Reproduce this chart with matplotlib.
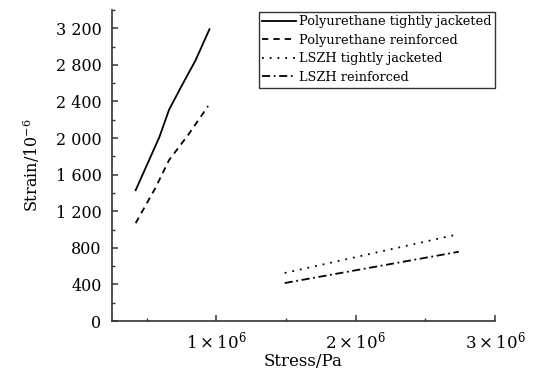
import matplotlib
matplotlib.use("Agg")
import matplotlib.pyplot as plt
from matplotlib.ticker import MultipleLocator, FuncFormatter

plt.rcParams['font.family'] = ['DejaVu Serif']
plt.rcParams['mathtext.fontset'] = 'dejavuserif'

# Data (stress in Pa, strain in 1e-6)
pu_tight_x = [0.42e6, 0.59e6, 0.66e6, 0.75e6, 0.85e6, 0.95e6]
pu_tight_y = [1430, 2010, 2310, 2570, 2850, 3190]
pu_reinf_x = [0.42e6, 0.56e6, 0.66e6, 0.80e6, 0.94e6]
pu_reinf_y = [1070, 1450, 1760, 2040, 2350]
lszh_tight_x = [1.49e6, 2.74e6]
lszh_tight_y = [525, 950]
lszh_reinf_x = [1.49e6, 2.74e6]
lszh_reinf_y = [415, 757]

labels = ["Polyurethane tightly jacketed", "Polyurethane reinforced",
          "LSZH tightly jacketed", "LSZH reinforced"]

fig = plt.figure(figsize=(5.34, 3.74), dpi=100)
ax = fig.add_axes([0.2097, 0.1417, 0.7173, 0.8316])

lw = 1.3
ax.plot(pu_tight_x, pu_tight_y, color='black', lw=lw, ls='-', label=labels[0])
ax.plot(pu_reinf_x, pu_reinf_y, color='black', lw=lw, ls=(0, (3.5, 2.8)), label=labels[1])
ax.plot(lszh_tight_x, lszh_tight_y, color='black', lw=lw, ls=(0, (1, 3.3)), label=labels[2])
ax.plot(lszh_reinf_x, lszh_reinf_y, color='black', lw=lw, ls=(0, (4.5, 2, 1, 2)), label=labels[3])

ax.set_xlim(0.25e6, 3.0e6)
ax.set_ylim(0, 3400)

ax.xaxis.set_major_locator(MultipleLocator(1e6))
ax.xaxis.set_minor_locator(MultipleLocator(0.5e6))
ax.yaxis.set_major_locator(MultipleLocator(400))
ax.yaxis.set_minor_locator(MultipleLocator(200))

def xfmt(v, pos):
    n = int(round(v / 1e6))
    return r"$%d\times10^{6}$" % n

def yfmt(v, pos):
    n = int(round(v))
    return "{:,}".format(n).replace(",", " ")

ax.xaxis.set_major_formatter(FuncFormatter(xfmt))
ax.yaxis.set_major_formatter(FuncFormatter(yfmt))

for s in ['top', 'right']:
    ax.spines[s].set_visible(False)
for s in ['left', 'bottom']:
    ax.spines[s].set_linewidth(1.2)
    ax.spines[s].set_color('#333333')

ax.tick_params(which='major', direction='in', length=4, width=1.1, colors='#333333', labelcolor='black')
ax.tick_params(which='minor', direction='in', length=2.5, width=1.0, colors='#333333')
ax.tick_params(axis='x', which='major', pad=7, labelsize=12)
ax.tick_params(axis='y', which='major', pad=7.5, labelsize=11.5)

ax.set_xlabel("Stress/Pa", fontsize=12, labelpad=0)
ax.set_ylabel("Strain/10$^{-6}$", fontsize=11.5, labelpad=10)

leg = ax.legend(loc='upper right', bbox_to_anchor=(1.0, 0.995), fontsize=9.3,
                frameon=True, fancybox=False, edgecolor='black', handlelength=2.6,
                handletextpad=0.2, borderpad=0.3, labelspacing=0.42, borderaxespad=0.0)
leg.get_frame().set_linewidth(1.0)

fig.savefig("out.png", dpi=100)
